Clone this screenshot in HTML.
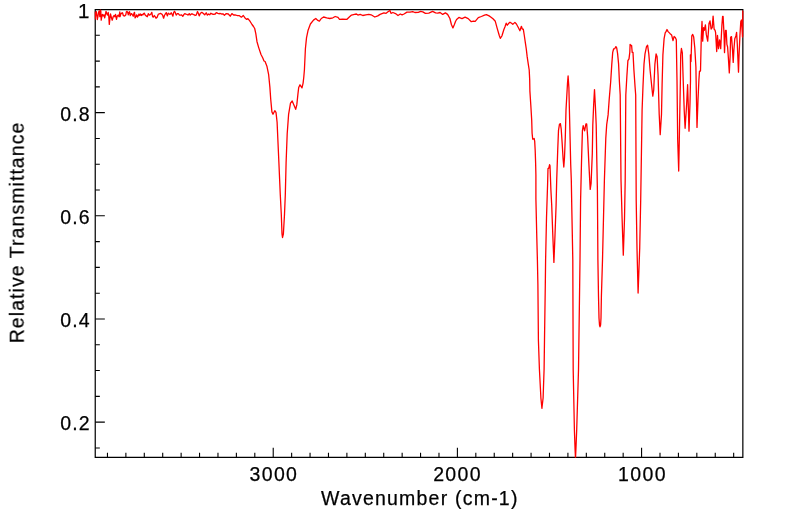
<!DOCTYPE html>
<html><head><meta charset="utf-8"><style>
html,body{margin:0;padding:0;background:#fff;}
body{width:799px;height:516px;overflow:hidden;}
svg{display:block;}
text{font-family:"Liberation Sans",sans-serif;fill:#000;}
</style></head><body>
<svg width="799" height="516" viewBox="0 0 799 516">
<rect width="799" height="516" fill="#fff"/>
<defs><clipPath id="c"><rect x="94.69" y="9.049999999999999" width="648.71" height="448.8"/></clipPath></defs>
<path d="M733.67 457.3V452.7M715.25 457.3V452.7M696.83 457.3V452.7M678.42 457.3V452.7M660 457.3V452.7M641.58 457.3V452.7M641.58 457.3V447.7M623.16 457.3V452.7M604.74 457.3V452.7M586.33 457.3V452.7M567.91 457.3V452.7M549.49 457.3V452.7M531.07 457.3V452.7M512.65 457.3V452.7M494.24 457.3V452.7M475.82 457.3V452.7M457.4 457.3V452.7M457.4 457.3V447.7M438.98 457.3V452.7M420.56 457.3V452.7M402.15 457.3V452.7M383.73 457.3V452.7M365.31 457.3V452.7M346.89 457.3V452.7M328.47 457.3V452.7M310.06 457.3V452.7M291.64 457.3V452.7M273.22 457.3V452.7M273.22 457.3V447.7M254.8 457.3V452.7M236.38 457.3V452.7M217.97 457.3V452.7M199.55 457.3V452.7M181.13 457.3V452.7M162.71 457.3V452.7M144.29 457.3V452.7M125.88 457.3V452.7M107.46 457.3V452.7M95.24 447.93H99.84M95.24 422.14H99.84M95.24 422.14H104.84M95.24 396.35H99.84M95.24 370.56H99.84M95.24 344.77H99.84M95.24 318.98H99.84M95.24 318.98H104.84M95.24 293.19H99.84M95.24 267.4H99.84M95.24 241.61H99.84M95.24 215.82H99.84M95.24 215.82H104.84M95.24 190.03H99.84M95.24 164.24H99.84M95.24 138.45H99.84M95.24 112.66H99.84M95.24 112.66H104.84M95.24 86.87H99.84M95.24 61.08H99.84M95.24 35.29H99.84M95.24 9.5H99.84M95.24 9.5H104.84" stroke="#000" stroke-width="1.1" fill="none"/>
<path d="M95.24 9.6H742.85V457.3H95.24Z" fill="none" stroke="#000" stroke-width="1.22" stroke-linejoin="miter"/>
<path d="M94.5 11.5 L95.2 19 L95.8 13 L96.3 11.7 L96.8 15 L97.3 19.5 L97.9 16.7 L98.5 12.8 L99.1 10.9 L99.5 12.8 L99.8 16.7 L100.4 10.1 L100.8 10.9 L101.2 20.2 L101.8 16.7 L102.4 14.4 L103.1 15.9 L103.9 14.8 L104.7 17.9 L105.5 14 L106 11.3 L106.6 13.2 L107.4 15.1 L108.2 12.4 L108.8 16.7 L109.3 24.4 L109.9 18.6 L110.5 14 L111.3 17.1 L112.2 20.2 L113.2 16.7 L114 15.5 L114.8 16.7 L115.5 14.4 L116.5 19.4 L117.3 15.9 L118.3 15.1 L119 16.7 L119.8 12 L120 16.7 L120.8 14 L121.6 13.2 L122.5 12.8 L123.3 15.5 L124.1 16.1 L125 15.7 L125.8 14.8 L126.4 11.7 L127 11.3 L127.8 12.8 L128.3 14.8 L128.9 12.4 L129.5 11.7 L130.3 15.5 L131 14 L131.6 13.6 L132.4 14.8 L133.2 16.3 L134 13.2 L134.5 12.4 L135.1 17.9 L135.9 16.7 L136.7 14.8 L137.4 17.1 L138.2 15.9 L139 14 L139.8 15.5 L140.5 14 L141.3 15.5 L142.1 14.4 L142.9 14.8 L143.6 13.6 L144.4 13.2 L145 14.8 L146.2 15.9 L147.3 16.7 L148.3 13.6 L149.3 15.1 L150.2 14.6 L151 14 L151.8 12.4 L152.6 16.7 L153.3 17.1 L154.3 15.5 L155.1 16.7 L156 18.2 L157 17.5 L158.2 14.4 L159.3 13.8 L160.5 13.4 L161.7 14 L162.6 15.1 L163.6 18.2 L164.4 15.5 L165.3 14 L166.3 12.6 L167.3 15.9 L168.3 13.2 L169.4 14 L170 14.4 L171.2 12.8 L172.1 14.4 L172.9 16.1 L173.7 12.4 L174.5 11.3 L175.2 12.4 L176.2 15.1 L177.4 13.6 L178.3 13.6 L179.5 15.1 L180.7 15.1 L181.6 14.8 L182.8 16.3 L184 14.4 L184.7 13.6 L185.9 14.2 L187.1 14.4 L188 15.1 L189.2 13.6 L190.2 15.1 L191.5 13.8 L192.5 14 L193.6 14.6 L194.8 14.8 L195 15.5 L196.2 15.1 L197.5 11.5 L198.3 13.2 L199.2 15.9 L200.4 13.2 L201.8 12.4 L203.1 13.2 L204.7 14.8 L206.2 12.8 L207.4 15.1 L208.6 14 L209.7 14.8 L210.9 13.2 L212.1 14 L213.6 14.4 L215.2 14 L216.3 12.6 L217.9 13.4 L219.4 13.8 L220 13.3 L221.5 14 L223.2 13.8 L224.4 15.3 L226.3 13.6 L228.3 14 L230.2 16.2 L231.9 13.6 L233.6 15 L235.5 15 L237.5 15.7 L239.4 15.7 L241.4 17.2 L243.3 15.5 L244.8 17.7 L246.5 19.4 L247.9 18.7 L249.6 20.6 L251.1 23 L252 24.5 L253.5 26.5 L254.7 28.5 L255.8 33.6 L257 41.7 L258.7 47.6 L261 54.5 L262.8 58 L264 61 L265.1 61.5 L266.9 66.2 L268.6 74.3 L269.9 87.4 L270.7 99 L271.9 111.9 L273 114.2 L274.8 110.7 L276 112.4 L277.1 122.3 L277.6 133.8 L278.9 162.8 L280.3 195 L281.3 214.4 L282 233.8 L282.5 237.5 L283.4 233.8 L284.5 214.4 L285.3 195 L286.1 162.8 L287.2 133.8 L288.6 114.4 L290.5 103.2 L292.2 101 L293.9 104.9 L295.7 109.3 L296.8 104.9 L297.9 94.4 L298.7 87.5 L300 84.8 L300.9 86.1 L302 87.9 L303.1 83.1 L303.8 77 L304.4 70 L305.4 48.8 L306.5 37.9 L308.1 30.2 L310.4 24 L313.5 20.1 L315.8 18.5 L317.4 20.1 L319.4 21.2 L321.3 18.5 L323.6 17 L326.7 17.8 L329.8 18.5 L332.9 17.8 L335.2 16.5 L338 17.4 L339.5 19.3 L342.5 19.1 L347 19.3 L349.3 17 L351.5 15.1 L354.5 14.4 L356.4 14 L357.9 15.1 L360.2 14.4 L362.8 15.5 L365.8 14.8 L368.8 14.4 L371.1 14.8 L374.8 17 L377.8 15.9 L380.1 14.4 L383.9 12.9 L386.1 13.3 L388 11.8 L389.9 10.4 L391 13.3 L392.9 12.5 L395.5 13.6 L398 15.5 L400.3 14 L402.1 14.8 L404 14 L407 12.1 L410 12.1 L412.7 11.6 L414.9 12.5 L418.3 12.4 L420.6 11.4 L422.8 11.9 L425.4 13.4 L428.8 13.1 L432.6 11.4 L435.6 12.9 L437.8 13.1 L440.1 12.5 L442.7 14.4 L445.4 12.9 L447.6 14.4 L449.9 18.5 L451.4 24.5 L452.9 27.9 L454.4 24.5 L455.5 21.5 L456.6 19.5 L458.9 17.4 L462 18.6 L465.1 17.2 L468.2 18.6 L471.3 21.7 L473.6 21.1 L475.2 21.3 L478.3 17.6 L481.4 16.5 L484.5 15.2 L486.4 14.7 L489.1 15.9 L490.7 17 L493 18.8 L495.3 21.3 L497.2 28.3 L499.2 35.2 L500.3 38.3 L501.9 36 L503.8 29.8 L505 26.7 L506.2 23.2 L507.3 25.2 L508.5 23.6 L510 22.2 L511.6 23.2 L512.8 24.4 L514.9 22.4 L516.4 24 L518.3 27.5 L519.9 30.7 L521.4 26.3 L522.4 29.2 L523.3 29.2 L524.3 35.5 L525.3 42.3 L526.3 49.1 L527.2 56.9 L528.2 63.7 L529.2 70 L529.7 80 L529.9 91.1 L530.8 105 L531.7 120 L532.1 133.3 L532.7 139.1 L534.2 138.5 L534.7 141.4 L535.2 150.7 L535.6 162.3 L535.9 175 L535.9 198.8 L536.8 237.5 L537.4 260 L537.9 285 L538.4 340 L539.4 369 L540.9 398 L541.9 408.3 L543.1 398 L544.1 369 L544.5 340 L545.3 285 L545.6 260 L546.5 218 L547.6 184 L548 168.6 L548.8 168.1 L549.6 164.7 L550 165.7 L550.5 179.3 L550.9 190 L551.7 205 L552.8 235 L553.9 262.4 L555 235 L556.1 205 L556.7 180 L557.7 150.7 L558.5 130.4 L559.5 124.2 L560.4 123.6 L561.2 129 L562.2 143.9 L563.1 158.8 L563.8 167 L564.5 157.5 L565.3 137.1 L566 110 L567.5 83.3 L568.1 76 L568.9 87.9 L569.4 110 L569.9 130.4 L570.7 164.3 L571.3 180 L571.8 208.4 L572.8 260 L573.2 370 L574.4 430 L575.1 450 L575.5 458.5 L576.1 445 L576.7 430 L578.5 370 L580 260 L580.6 200 L581.5 162.4 L582.4 130.9 L583.2 125.7 L584.6 130.9 L585.9 124 L586.7 124 L587.6 136.2 L588.8 162.4 L590.2 189.4 L591.1 183.3 L592.3 153.6 L592.8 125 L593.7 104 L594.5 89.6 L595.4 106.5 L596.2 125 L596.8 160 L597.4 190 L597.9 260 L598.5 296.3 L599 318 L599.5 325 L600 326.8 L600.6 325 L601 318 L601.4 296.3 L602.5 260 L604.4 180 L605.8 138.1 L606.7 124.6 L608.1 114.9 L609.2 99.4 L610.7 81.5 L611.8 64.1 L612.7 52.4 L613.6 49 L614.7 48.7 L615.9 46.6 L616.7 47.8 L617.6 53.6 L618.6 64.1 L619.4 81.5 L620.2 95 L621 180 L622.1 218.8 L623.3 255.2 L624.5 218.8 L625.2 180 L625.8 95 L626.9 75.7 L627.9 60.6 L629 58.8 L629.8 52.4 L630.1 44.3 L630.8 45.5 L631.6 45.5 L632.2 52.4 L633 52.4 L633.9 69.9 L635.1 87.3 L635.7 95 L636.2 200 L637 248.4 L638.1 293 L639.7 248.4 L640.7 200 L642.1 110 L643 85.9 L644 64.1 L645 53.9 L646.5 46.6 L647.6 45.2 L648.8 53.9 L650.2 71.3 L651.7 85.9 L652.8 96.2 L653.7 90.2 L654.9 64.1 L656.1 53.9 L657.1 56.8 L658.1 75.7 L658.5 90 L659.2 114.3 L660.2 134.7 L661.5 114.3 L662.1 85 L662.9 54.9 L664.1 38.6 L665.2 32.8 L666 31.6 L667 29.5 L668.1 31.6 L669.9 33.4 L671.6 34.9 L673 40.7 L674.1 36.5 L675.3 37.4 L676.3 39.8 L676.6 58 L677 80 L677.7 140 L678.7 171 L679.3 140 L680.4 80 L680.7 55 L681.4 48.5 L682.3 52.6 L683.2 80 L684.2 110 L685.1 128.3 L686.7 103.3 L687.6 84.7 L688.2 103.3 L689 131.2 L690 103.3 L690.5 80 L690.4 54.8 L691 61.6 L691.8 35.8 L692.7 34.4 L693.7 37.1 L694.8 48 L695.9 67 L696.3 90 L697 127.4 L698 100 L698.9 80 L699.5 71.1 L700.5 71.1 L701.3 37.1 L702 21.5 L702.7 41.2 L703.6 27.6 L704.3 30.4 L705.4 24.9 L706.3 34.4 L707.7 41.2 L709 23.6 L710 20.9 L711.1 29 L712.2 27.6 L713.1 16.1 L714.1 29 L715.1 30.4 L715.6 32.6 L716.7 51.5 L717.5 35.5 L718.5 48.6 L719.6 39.9 L720.7 48.6 L721.9 25.3 L722.6 16.4 L723.1 16.4 L724.1 35.9 L724.5 52.6 L725.5 30.3 L726.2 30.3 L726.9 44.3 L727.6 47 L728.3 56.8 L729.3 72.9 L730.1 56.8 L730.6 37.3 L731.5 36.6 L732.5 49.8 L733.2 62.4 L733.9 49.8 L734.8 38.7 L735.9 35.9 L736.6 32.4 L737.3 44.3 L738.5 72.2 L739 56.8 L739.9 35.9 L740.8 21.6 L741.5 20 L742.1 30 L742.5 37 L742.8 11 L743.1 36 L743.4 11" fill="none" stroke="#ff0000" stroke-width="1.3" stroke-linejoin="round" clip-path="url(#c)"/>
<g font-size="19.5" style="opacity:0.999" stroke="#000" stroke-width="0.25">
<text x="89.3" y="17.5" text-anchor="end" textLength="11.4" lengthAdjust="spacingAndGlyphs">1</text>
<text x="89.6" y="120.8" text-anchor="end" textLength="29.4" lengthAdjust="spacing">0.8</text>
<text x="89.6" y="223.9" text-anchor="end" textLength="29.4" lengthAdjust="spacing">0.6</text>
<text x="89.6" y="327" text-anchor="end" textLength="29.4" lengthAdjust="spacing">0.4</text>
<text x="89.6" y="430" text-anchor="end" textLength="29.4" lengthAdjust="spacing">0.2</text>
<text x="273.2" y="480.8" text-anchor="middle" textLength="47.5" lengthAdjust="spacing">3000</text>
<text x="456.9" y="480.8" text-anchor="middle" textLength="47.5" lengthAdjust="spacing">2000</text>
<text x="641.8" y="480.8" text-anchor="middle" textLength="47.5" lengthAdjust="spacing">1000</text>
<text x="419.2" y="504.7" text-anchor="middle" textLength="196.4" lengthAdjust="spacing">Wavenumber (cm-1)</text>
<text transform="translate(23.7,233) rotate(-90)" text-anchor="middle" textLength="220.7" lengthAdjust="spacing">Relative Transmittance</text>
</g>

</svg>
</body></html>
